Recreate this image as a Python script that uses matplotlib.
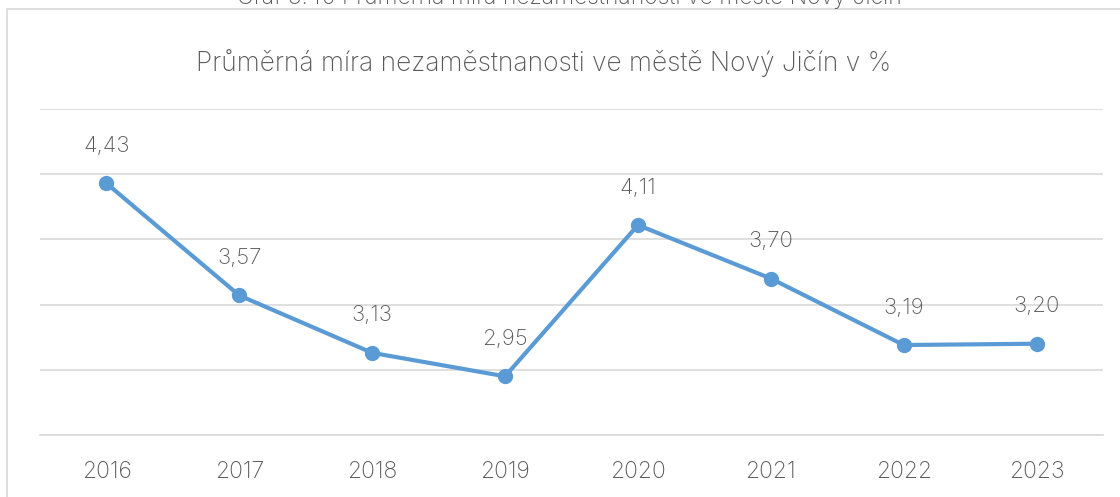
import matplotlib.pyplot as plt
from matplotlib.patches import Rectangle

years = ["2016", "2017", "2018", "2019", "2020", "2021", "2022", "2023"]
rate = [4.43, 3.57, 3.13, 2.95, 4.11, 3.70, 3.19, 3.20]
labels = ["4,43", "3,57", "3,13", "2,95", "4,11", "3,70", "3,19", "3,20"]

plt.rcParams['font.family'] = ['Inter', 'DejaVu Sans']
plt.rcParams['font.weight'] = 'light'
txt_color = "#595959"
line_color = "#5B9BD5"

fig = plt.figure(figsize=(11.2, 4.97), dpi=100)

# chart frame (runs off the right and bottom edge)
fig.patches.append(Rectangle((7 / 1120, -0.05), 1.1, 1.05 - 9 / 497,
                             transform=fig.transFigure, fill=False,
                             edgecolor="#D9D9D9", linewidth=1.2))

# caption cut off at the top, as in the source page
fig.text(0.508, 1 - 4 / 497, "Graf 3.40 Průměrná míra nezaměstnanosti ve městě Nový Jičín",
         ha="center", va="baseline", fontsize=16.5, color=txt_color)

ax = fig.add_axes([40 / 1120, 62 / 497, 1063 / 1120, 326 / 497])
x = range(len(years))
ax.plot(x, rate, color=line_color, linewidth=3, marker="o", markersize=10,
        solid_capstyle="round", zorder=3)

for xi, v, lab in zip(x, rate, labels):
    ax.annotate(lab, (xi, v), xytext=(0, 27), textcoords="offset points",
                ha="center", va="center", fontsize=16, color=txt_color)

ax.set_xlim(-0.5, 7.5)
ax.set_ylim(2.5, 5.0)
ax.set_yticks([2.5, 3.0, 3.5, 4.0, 4.5, 5.0])
ax.yaxis.grid(True, color="#D9D9D9", linewidth=1.2)
ax.set_axisbelow(True)
ax.tick_params(axis="y", left=False, labelleft=False)
ax.set_xticks(list(x))
ax.set_xticklabels(years, fontsize=16.5, color=txt_color)
ax.tick_params(axis="x", length=0, pad=19)
for s in ["top", "right", "left"]:
    ax.spines[s].set_visible(False)
ax.spines["bottom"].set_color("#D9D9D9")
ax.spines["bottom"].set_linewidth(1.2)

fig.text(544 / 1120, 1 - 63 / 497, "Průměrná míra nezaměstnanosti ve městě Nový Jičín v %",
         ha="center", va="center", fontsize=19, fontweight="light", color=txt_color)

fig.savefig("out.png", dpi=100)
